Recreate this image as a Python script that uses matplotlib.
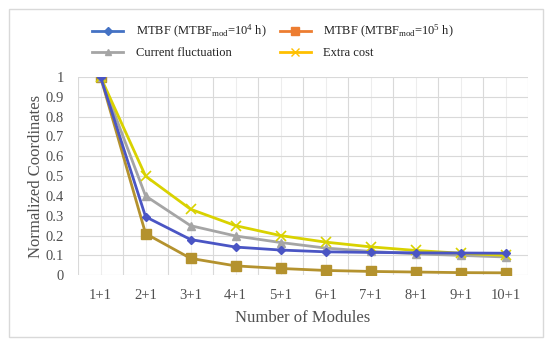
import matplotlib
matplotlib.use('Agg')
import matplotlib.pyplot as plt
import numpy as np
from matplotlib.lines import Line2D
from matplotlib.patches import Rectangle

plt.rcParams['font.family'] = ['Liberation Serif', 'DejaVu Serif']
plt.rcParams['mathtext.fontset'] = 'custom'
plt.rcParams['mathtext.rm'] = 'Liberation Serif'
plt.rcParams['mathtext.it'] = 'Liberation Serif:italic'

# --- dados ---
modulos = ['1+1', '2+1', '3+1', '4+1', '5+1', '6+1', '7+1', '8+1', '9+1', '10+1']
mtbf_1e4 = [1.0, 0.295, 0.18, 0.142, 0.127, 0.118, 0.115, 0.113, 0.112, 0.111]
mtbf_1e5 = [1.0, 0.21, 0.085, 0.047, 0.034, 0.024, 0.019, 0.016, 0.013, 0.012]
flutuacao = [1.0, 0.4, 0.25, 0.198, 0.165, 0.137, 0.12, 0.108, 0.1, 0.092]
custo_extra = [1.0, 0.5, 0.333, 0.25, 0.2, 0.167, 0.143, 0.125, 0.111, 0.1]

nomes = [r'MTBF (MTBF$_{\mathrm{mod}}$=10$^{4}$ h)',
         r'MTBF (MTBF$_{\mathrm{mod}}$=10$^{5}$ h)',
         'Current fluctuation', 'Extra cost']

fig = plt.figure(figsize=(5.5, 3.44), dpi=100)
ax = fig.add_axes([0.142, 0.2, 0.818, 0.576])

x = np.arange(len(modulos))
ax.plot(x, mtbf_1e4, color='#4A55C4', lw=2, marker='D', ms=4.5, zorder=4)
ax.plot(x, mtbf_1e5, color='#B4922E', lw=2, marker='s', ms=6.5, zorder=3)
ax.plot(x, flutuacao, color='#A5A5A5', lw=2, marker='^', ms=6, zorder=3)
ax.plot(x, custo_extra, color='#D9D200', lw=2, marker='x', ms=7, mew=1.2, zorder=3)

ax.set_xlim(-0.5, len(modulos) - 0.5)
ax.set_ylim(0, 1)
ax.set_xticks(x, modulos)
ax.set_xticks(np.arange(-0.5, len(modulos), 1), minor=True)
ax.set_yticks(np.arange(0, 1.01, 0.1), ['0'] + [f'{v:.1f}' for v in np.arange(0.1, 0.95, 0.1)] + ['1'])
ax.tick_params(axis='both', which='both', length=0, labelsize=10.5, colors='#505050')
ax.tick_params(axis='x', pad=10)
ax.tick_params(axis='y', pad=10)
ax.grid(axis='x', which='minor', color='#D9D9D9', lw=0.8)
ax.grid(axis='x', which='major', color='#EDEDED', lw=0.8)
ax.grid(axis='y', which='major', color='#D9D9D9', lw=0.8)
for s in ax.spines.values():
    s.set_visible(False)
ax.set_axisbelow(True)

ax.set_xlabel('Number of Modules', fontsize=12, color='#505050', labelpad=6)
ax.set_ylabel('Normalized Coordinates', fontsize=12, color='#505050', labelpad=1)

h1 = Line2D([], [], color='#4472C4', lw=2, marker='D', ms=4)
h2 = Line2D([], [], color='#ED7D31', lw=2, marker='s', ms=6)
h3 = Line2D([], [], color='#A5A5A5', lw=2, marker='^', ms=5)
h4 = Line2D([], [], color='#FFC000', lw=2, marker='x', ms=6)
# ncol=2 preenche por coluna, então a ordem é trocada
fig.legend([h1, h3, h2, h4], [nomes[0], nomes[2], nomes[1], nomes[3]], ncol=2,
           loc='upper left', bbox_to_anchor=(0.147, 0.965),
           frameon=False, fontsize=9, handlelength=2.5, columnspacing=1.05,
           labelspacing=0.55, handletextpad=1.0, labelcolor='#202020')

fig.patches.append(Rectangle((0.016, 0.02), 0.972, 0.955, transform=fig.transFigure,
                             fill=False, edgecolor='#D9D9D9', lw=1))

fig.savefig('out.png', dpi=100)
